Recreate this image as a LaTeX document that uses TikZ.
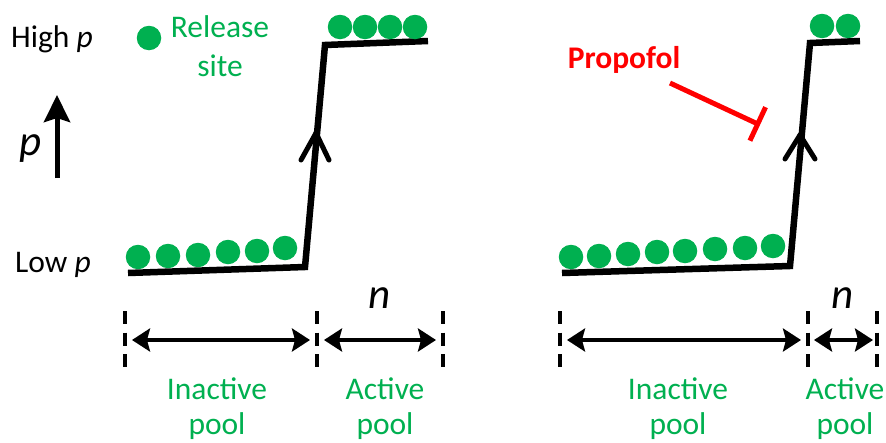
\documentclass[tikz,border=0pt]{standalone}
\usepackage{fontspec}
\setmainfont{Carlito}
\usetikzlibrary{arrows.meta}
\definecolor{pgreen}{HTML}{00B050}
\definecolor{pred}{HTML}{FF0000}
\begin{document}
\begin{tikzpicture}[x=1pt,y=-1pt,
  vesicle/.style={circle,fill=pgreen,inner sep=0pt,minimum size=24.5pt},
  stepline/.style={line width=6.5pt,line join=miter},
  barb/.style={line width=5pt,line cap=round},
  marker/.style={line width=4pt,dash pattern=on 13pt off 8.5pt},
  spanarrow/.style={line width=3.5pt,shorten <=7pt,shorten >=7pt,
    {Stealth[length=18pt,width=23pt,inset=3pt]}-{Stealth[length=18pt,width=23pt,inset=3pt]}},
  lbl/.style={font=\fontsize{31.5}{33}\selectfont,inner sep=0pt},
  glbl/.style={text=pgreen,align=center,inner sep=0pt,anchor=north},
  big/.style={font=\fontsize{43}{45}\selectfont\itshape,inner sep=0pt,anchor=base}]
\useasboundingbox (0,0) rectangle (886,442);

% ---------- left panel ----------
\node[lbl,anchor=base west] (high) at (11,47) {High \textit{p}};
\node[lbl,anchor=base west] (low) at (15,272) {Low \textit{p}};
\node[vesicle] (rs) at (149,38) {};
\node[glbl,font=\fontsize{31.5}{39}\selectfont] (release) at (220,15) {Release\\site};
\node[big] (pl) at (31,155) {p};
\coordinate (pbot) at (57,178);
\coordinate (ptop) at (57,95);
\draw[line width=5pt,-{Stealth[length=27pt,width=26pt,inset=4pt]}] (pbot) -- (ptop);

\coordinate (La) at (128,273);
\coordinate (Lb) at (305,267);
\coordinate (Lc) at (325,45);
\coordinate (Ld) at (428,41);
\draw[stepline] (La) -- (Lb) -- (Lc) -- (Ld);
\coordinate (Lv) at (316,133);
\draw[barb] (Lv) -- ++(-15,27);
\draw[barb] (Lv) -- ++(13,27);

\foreach \x/\y [count=\i] in {138/257,168/256,198/255,228/252,257/251,285/248}
  \node[vesicle] (lb\i) at (\x,\y) {};
\foreach \x [count=\i] in {340,365,390,415}
  \node[vesicle] (lt\i) at (\x,27) {};

\coordinate (m1) at (125,340);
\coordinate (m2) at (317,340);
\coordinate (m3) at (443,340);
\foreach \m in {m1,m2,m3}
  \draw[marker] (\m) ++(0,-29) -- ++(0,57);
\draw[spanarrow] (m1) -- (m2);
\draw[spanarrow] (m2) -- (m3);
\node[big] (nl) at (380,308) {n};
\node[glbl,font=\fontsize{31.5}{35}\selectfont] (inl) at (217,378) {Inactive\\pool};
\node[glbl,font=\fontsize{31.5}{35}\selectfont] (acl) at (385,378) {Active\\pool};

% ---------- right panel ----------
\node[lbl,anchor=north,font=\fontsize{31.5}{33}\selectfont\bfseries,text=pred] (prop) at (624,46) {Propofol};
\coordinate (ps) at (670,83);
\coordinate (pe) at (760,125);
\draw[line width=5pt,pred,-{Bar[width=37pt,line width=5pt]}] (ps) -- (pe);

\coordinate (Ra) at (562,273);
\coordinate (Rb) at (790,266);
\coordinate (Rc) at (810,43);
\coordinate (Rd) at (860,41);
\draw[stepline] (Ra) -- (Rb) -- (Rc) -- (Rd);
\coordinate (Rv) at (800,135);
\draw[barb] (Rv) -- ++(-15,24);
\draw[barb] (Rv) -- ++(15,24);

\foreach \x/\y [count=\i] in {571/257,599/256,628/254,657/252,685/251,715/249,745/248,773/246}
  \node[vesicle] (rb\i) at (\x,\y) {};
\foreach \x [count=\i] in {822,848}
  \node[vesicle] (rt\i) at (\x,26) {};

\coordinate (r1) at (560,340);
\coordinate (r2) at (808,340);
\coordinate (r3) at (877,340);
\foreach \m in {r1,r2,r3}
  \draw[marker] (\m) ++(0,-29) -- ++(0,57);
\draw[spanarrow] (r1) -- (r2);
\draw[spanarrow,shorten <=6pt,shorten >=4pt] (r2) -- (r3);
\node[big] (nr) at (843,308) {n};
\node[glbl,font=\fontsize{31.5}{35}\selectfont] (inr) at (678,378) {Inactive\\pool};
\node[glbl,font=\fontsize{31.5}{35}\selectfont] (acr) at (845,378) {Active\\pool};
\end{tikzpicture}
\end{document}
